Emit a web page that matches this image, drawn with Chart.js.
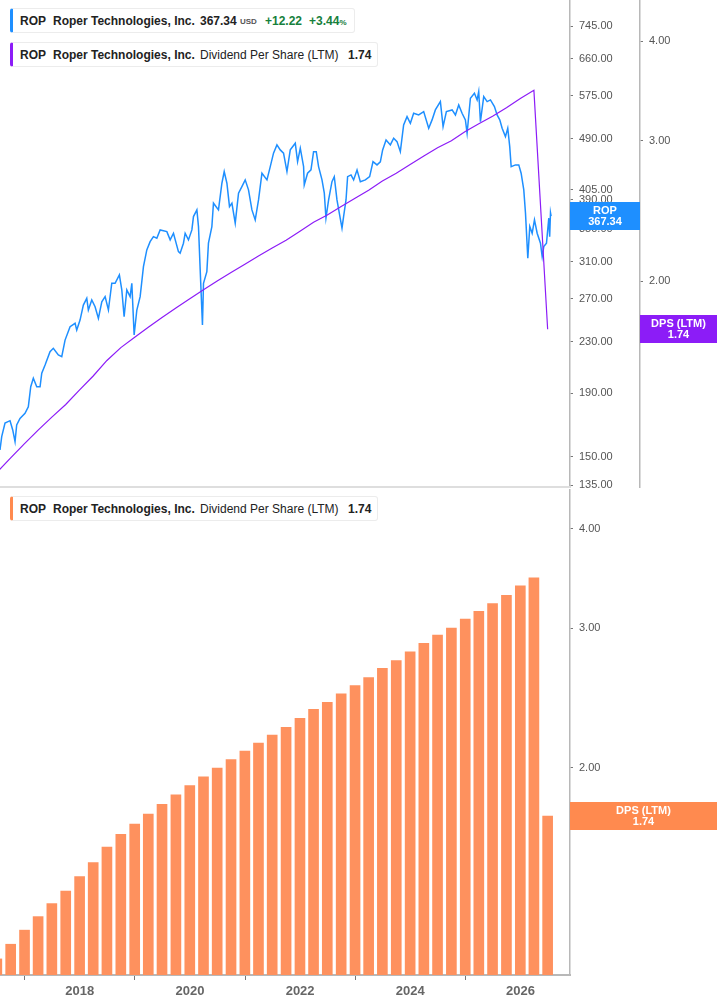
<!DOCTYPE html>
<html>
<head>
<meta charset="utf-8">
<title>ROP - Dividend Per Share (LTM)</title>
<script src="https://cdn.jsdelivr.net/npm/chart.js@4.4.0/dist/chart.umd.min.js"></script>
<style>
    body { margin: 0; background: #fff; font-family: "Liberation Sans", Arial, sans-serif; }
    #wrap { position: relative; width: 717px; height: 1005px; overflow: hidden; }
    canvas { position: absolute; left: 0; }
    #topChart { top: 0; }
    #bottomChart { top: 488px; }
    .legend {
        position: absolute; left: 10px; height: 25px; background: #fff;
        border: 1px solid #ececec; border-left: 3px solid #000; border-radius: 3px;
        box-sizing: border-box; font-size: 12px; color: #222; white-space: nowrap; z-index: 2;
    }
    .legend span { position: absolute; top: 5px; line-height: 14px; }
    .legend .b { font-weight: bold; }
    .legend .small { font-size: 8px; font-weight: bold; color: #555; top: 8px; line-height: 10px; }
    .legend .up { color: #16803c; font-weight: bold; }
    .legend .up small { font-size: 8px; }
</style>
</head>
<body>
<div id="wrap">
    <canvas id="topChart" width="717" height="500"></canvas>
    <canvas id="bottomChart" width="717" height="517"></canvas>

    <div class="legend" style="top:8px; width:345px; border-left-color:#1e8fff;">
        <span class="b" style="left:7px;">ROP</span>
        <span class="b" style="left:40px;">Roper Technologies, Inc.</span>
        <span class="b" style="left:187px;">367.34</span>
        <span class="small" style="left:227px;">USD</span>
        <span class="up" style="left:252px;">+12.22</span>
        <span class="up" style="left:296px;">+3.44<small>%</small></span>
    </div>
    <div class="legend" style="top:42px; width:368px; border-left-color:#8c1cf7;">
        <span class="b" style="left:7px;">ROP</span>
        <span class="b" style="left:40px;">Roper Technologies, Inc.</span>
        <span style="left:187px;">Dividend Per Share (LTM)</span>
        <span class="b" style="left:335px;">1.74</span>
    </div>
    <div class="legend" style="top:496px; width:368px; border-left-color:#ff8a4f;">
        <span class="b" style="left:7px;">ROP</span>
        <span class="b" style="left:40px;">Roper Technologies, Inc.</span>
        <span style="left:187px;">Dividend Per Share (LTM)</span>
        <span class="b" style="left:335px;">1.74</span>
    </div>
</div>

<script>
// ROP share price (dates as fractional years)
const priceYears = [2016.552, 2016.583, 2016.643, 2016.734, 2016.783, 2016.825, 2016.855, 2016.915, 2017.006, 2017.066,
    2017.110, 2017.157, 2017.219, 2017.279, 2017.310, 2017.370, 2017.460, 2017.520, 2017.611, 2017.673,
    2017.733, 2017.824, 2017.915, 2017.945, 2018.005, 2018.065, 2018.127, 2018.156, 2018.218, 2018.278,
    2018.338, 2018.400, 2018.460, 2018.520, 2018.581, 2018.641, 2018.719, 2018.763, 2018.805, 2018.854,
    2018.914, 2018.945, 2018.987, 2019.036, 2019.096, 2019.156, 2019.217, 2019.277, 2019.337, 2019.399,
    2019.459, 2019.581, 2019.641, 2019.701, 2019.791, 2019.822, 2019.882, 2019.913, 2019.973, 2020.035,
    2020.064, 2020.126, 2020.155, 2020.186, 2020.227, 2020.246, 2020.307, 2020.336, 2020.398, 2020.427,
    2020.518, 2020.580, 2020.622, 2020.671, 2020.718, 2020.762, 2020.822, 2020.882, 2020.943, 2021.003,
    2021.063, 2021.125, 2021.185, 2021.245, 2021.307, 2021.398, 2021.458, 2021.517, 2021.579, 2021.639,
    2021.699, 2021.761, 2021.821, 2021.912, 2021.954, 2022.003, 2022.063, 2022.075, 2022.135, 2022.197,
    2022.244, 2022.293, 2022.335, 2022.397, 2022.439, 2022.469, 2022.517, 2022.578, 2022.620, 2022.669,
    2022.717, 2022.760, 2022.789, 2022.833, 2022.862, 2022.924, 2022.971, 2023.033, 2023.093, 2023.184,
    2023.262, 2023.323, 2023.396, 2023.456, 2023.498, 2023.560, 2023.638, 2023.698, 2023.759, 2023.819,
    2023.879, 2023.941, 2024.001, 2024.061, 2024.152, 2024.243, 2024.334, 2024.395, 2024.455, 2024.546,
    2024.595, 2024.655, 2024.759, 2024.819, 2024.879, 2024.940, 2025.000, 2025.031, 2025.091, 2025.164,
    2025.213, 2025.242, 2025.273, 2025.333, 2025.395, 2025.455, 2025.527, 2025.576, 2025.624, 2025.667,
    2025.727, 2025.769, 2025.805, 2025.831, 2025.909, 2025.969, 2026.012, 2026.060, 2026.091, 2026.133,
    2026.169, 2026.212, 2026.254, 2026.303, 2026.363, 2026.394, 2026.423, 2026.472, 2026.514, 2026.530,
    2026.545, 2026.556];
const priceValues = [153.8, 161.6, 170.0, 171.5, 165.7, 158.6, 168.8, 173.0, 176.3, 180.6,
    194.6, 200.8, 194.6, 194.6, 204.6, 211.0, 221.7, 224.5, 219.0, 217.6,
    231.5, 243.3, 246.4, 240.3, 249.4, 263.7, 270.4, 258.9, 268.7, 262.1,
    251.0, 267.0, 272.1, 258.9, 286.0, 286.0, 295.0, 279.0, 252.5, 279.0,
    272.1, 286.0, 235.9, 258.9, 272.1, 304.3, 323.8, 333.9, 340.2, 338.2,
    348.8, 346.6, 336.1, 344.5, 321.8, 319.9, 332.0, 344.5, 336.1, 348.8,
    366.6, 375.8, 353.2, 300.6, 244.9, 286.0, 298.7, 332.0, 353.2, 385.3,
    375.8, 415.0, 433.4, 415.0, 380.4, 385.3, 357.7, 399.9, 409.8, 420.2,
    404.9, 375.8, 362.1, 390.0, 430.8, 420.2, 441.5, 464.1, 478.6, 469.8,
    464.1, 433.4, 469.8, 481.7, 449.8, 472.8, 441.5, 412.4, 430.8, 436.1,
    466.8, 466.8, 441.5, 420.2, 399.9, 364.4, 390.0, 417.4, 425.3, 390.0,
    368.9, 351.1, 366.6, 390.0, 425.3, 428.0, 420.2, 436.1, 417.4, 420.2,
    425.3, 449.8, 444.3, 449.3, 469.8, 487.6, 478.6, 490.7, 484.5, 466.8,
    515.6, 531.7, 518.8, 538.5, 535.1, 541.8, 509.3, 525.3, 545.2, 562.3,
    512.4, 541.8, 545.2, 535.1, 555.4, 538.5, 525.3, 499.9, 569.4, 580.1,
    565.8, 583.6, 521.8, 572.8, 562.3, 565.8, 551.9, 535.1, 525.3, 509.3,
    493.6, 509.3, 475.6, 441.5, 444.3, 444.3, 430.8, 404.9, 371.3, 313.9,
    353.2, 344.5, 362.1, 344.5, 332.0, 315.8, 327.8, 332.0, 364.4, 340.0,
    372.0, 367.34];

// Dividend per share (LTM), quarterly
const dpsDates = ['2016-06-30', '2016-09-30', '2016-12-31',
    '2017-03-31', '2017-06-30', '2017-09-30', '2017-12-31',
    '2018-03-31', '2018-06-30', '2018-09-30', '2018-12-31',
    '2019-03-31', '2019-06-30', '2019-09-30', '2019-12-31',
    '2020-03-31', '2020-06-30', '2020-09-30', '2020-12-31',
    '2021-03-31', '2021-06-30', '2021-09-30', '2021-12-31',
    '2022-03-31', '2022-06-30', '2022-09-30', '2022-12-31',
    '2023-03-31', '2023-06-30', '2023-09-30', '2023-12-31',
    '2024-03-31', '2024-06-30', '2024-09-30', '2024-12-31',
    '2025-03-31', '2025-06-30', '2025-09-30', '2025-12-31',
    '2026-03-31', '2026-06-30'];
const dpsValues = [1.15, 1.20, 1.25, 1.30, 1.35, 1.40, 1.46, 1.52, 1.59, 1.65,
    1.70, 1.75, 1.80, 1.85, 1.90, 1.95, 2.00, 2.05, 2.10, 2.15,
    2.20, 2.25, 2.31, 2.37, 2.42, 2.48, 2.54, 2.60, 2.67, 2.73,
    2.80, 2.87, 2.94, 3.00, 3.08, 3.15, 3.22, 3.30, 3.39, 3.47,
    1.74];

// Axis ticks
const yearTicks = [2018, 2020, 2022, 2024, 2026];
const priceTicks = [135, 150, 190, 230, 270, 310, 350, 390, 405, 490, 575, 660, 745];
const dpsTicks = [2, 3, 4];

const BLUE = '#1e8fff';
const PURPLE = '#8c1cf7';
const ORANGE = '#ff8a4f';
const BAR = '#fe915e';
const AXIS = '#b8b8b8';
const LABEL = '#555';

function toYear(s) {
    const [y, m, d] = s.split('-').map(Number);
    const t0 = Date.UTC(y, 0, 1), t1 = Date.UTC(y + 1, 0, 1);
    return y + (Date.UTC(y, m - 1, d) - t0) / (t1 - t0);
}

const dpsYears = dpsDates.map(toYear);
const priceData = priceYears.map((x, i) => ({ x: x, y: priceValues[i] }));
const dpsData = dpsYears.map((x, i) => ({ x: x, y: dpsValues[i] }));
const xMin = 2016.552, xMax = 2026.899;

// last-value boxes sitting on the right axes
const valueBoxes = {
    id: 'valueBoxes',
    afterDraw(chart, args, opts) {
        const ctx = chart.ctx;
        ctx.save();
        (opts.boxes || []).forEach(b => {
            const scale = chart.scales[b.axis];
            const yc = Math.round(scale.getPixelForValue(b.value));
            ctx.fillStyle = b.color;
            ctx.fillRect(scale.left, yc - 14, scale.right - scale.left, 28);
            ctx.fillStyle = '#fff';
            ctx.font = 'bold 11px "Liberation Sans", Arial, sans-serif';
            ctx.textAlign = 'center';
            ctx.textBaseline = 'middle';
            const xc = (scale.left + scale.right) / 2;
            ctx.fillText(b.title, xc, yc - 5.5);
            ctx.fillText(b.value.toFixed(2), xc, yc + 5.5);
        });
        ctx.restore();
    }
};

// thin separator under the upper panel
const bottomRule = {
    id: 'bottomRule',
    afterDraw(chart, args, opts) {
        if (!opts.show) return;
        const { ctx, chartArea } = chart;
        ctx.save();
        ctx.strokeStyle = '#dedede';
        ctx.lineWidth = 2;
        ctx.beginPath();
        ctx.moveTo(chartArea.left, chartArea.bottom);
        ctx.lineTo(chartArea.right, chartArea.bottom);
        ctx.stroke();
        ctx.restore();
    }
};

const tickFont = { size: 11, family: '"Liberation Sans", Arial, sans-serif' };

// no extra room for half-labels at the ends of the axes
function noEdgePadding(scale) {
    scale.paddingTop = 0;
    scale.paddingBottom = 0;
    scale.paddingLeft = 0;
    scale.paddingRight = 0;
}

function rightLogAxis(min, max, ticks, width) {
    return {
        type: 'logarithmic',
        position: 'right',
        min: min,
        max: max,
        afterBuildTicks: scale => { scale.ticks = ticks.map(v => ({ value: v })); },
        afterFit: scale => { scale.width = width; noEdgePadding(scale); },
        border: { display: true, color: AXIS, width: 1.5 },
        grid: { drawOnChartArea: false, drawTicks: true, tickLength: 3, tickColor: '#777', tickWidth: 1 },
        ticks: {
            autoSkip: false,
            padding: 6,
            color: LABEL,
            font: tickFont,
            callback: v => Number(v).toFixed(2)
        }
    };
}

// 1. Price + DPS line (upper panel)
new Chart(document.getElementById('topChart').getContext('2d'), {
    type: 'line',
    data: {
        datasets: [{
            label: 'Dividend Per Share (LTM)',
            data: dpsData,
            yAxisID: 'y2',
            borderColor: PURPLE,
            borderWidth: 1.2,
            pointRadius: 0,
            tension: 0,
            order: 0
        }, {
            label: 'ROP',
            data: priceData,
            yAxisID: 'y',
            borderColor: BLUE,
            borderWidth: 1.5,
            pointRadius: 0,
            tension: 0,
            order: 1
        }]
    },
    options: {
        responsive: false,
        animation: false,
        devicePixelRatio: 1,
        layout: { padding: { top: 0, left: 0, right: 0, bottom: 13 } },
        plugins: {
            legend: { display: false },
            tooltip: { enabled: false },
            bottomRule: { show: true },
            valueBoxes: {
                boxes: [
                    { axis: 'y', value: priceValues[priceValues.length - 1], title: 'ROP', color: BLUE },
                    { axis: 'y2', value: dpsValues[dpsValues.length - 1], title: 'DPS (LTM)', color: PURPLE }
                ]
            }
        },
        scales: {
            x: { type: 'linear', min: xMin, max: xMax, display: false },
            y: rightLogAxis(134, 820.7, priceTicks, 70),
            y2: rightLogAxis(1.103, 4.505, dpsTicks, 77)
        }
    },
    plugins: [valueBoxes, bottomRule]
});

// 2. DPS bars (lower panel)
new Chart(document.getElementById('bottomChart').getContext('2d'), {
    type: 'bar',
    data: {
        datasets: [{
            label: 'Dividend Per Share (LTM)',
            data: dpsData,
            backgroundColor: BAR,
            borderWidth: 0,
            barThickness: 10
        }]
    },
    options: {
        responsive: false,
        animation: false,
        devicePixelRatio: 1,
        layout: { padding: { top: 2, left: 0, right: 0, bottom: 0 } },
        plugins: {
            legend: { display: false },
            tooltip: { enabled: false },
            valueBoxes: {
                boxes: [
                    { axis: 'y', value: dpsValues[dpsValues.length - 1], title: 'DPS (LTM)', color: ORANGE }
                ]
            }
        },
        scales: {
            x: {
                type: 'linear',
                min: xMin,
                max: xMax,
                offset: false,
                afterBuildTicks: scale => { scale.ticks = yearTicks.map(v => ({ value: v })); },
                afterFit: scale => { scale.height = 30; noEdgePadding(scale); },
                border: { display: true, color: AXIS, width: 2 },
                grid: { drawOnChartArea: false, drawTicks: true, tickLength: 5, tickColor: '#777', tickWidth: 1 },
                ticks: {
                    autoSkip: false,
                    maxRotation: 0,
                    padding: 4,
                    color: '#666',
                    font: { size: 13, weight: 'bold', family: '"Liberation Sans", Arial, sans-serif' },
                    callback: v => String(v)
                }
            },
            y: rightLogAxis(1.0976, 4.477, dpsTicks, 147)
        }
    },
    plugins: [valueBoxes]
});
</script>
</body>
</html>
